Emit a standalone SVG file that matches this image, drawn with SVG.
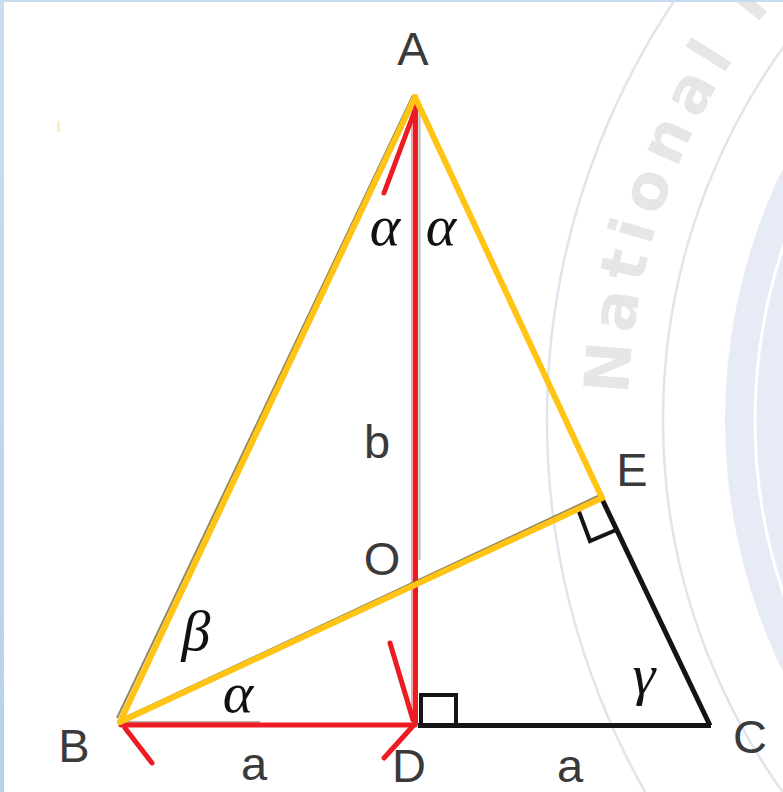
<svg xmlns="http://www.w3.org/2000/svg" width="783" height="792" viewBox="0 0 783 792">
  <defs>
    <linearGradient id="edgeGrad" x1="0" y1="0" x2="0" y2="1">
      <stop offset="0" stop-color="#c9ddef"/>
      <stop offset="1" stop-color="#b7d1ea"/>
    </linearGradient>
    <path id="wmArc" d="M628,420 A672,672 0 0 1 1016,-189"/>
    <style>
      .lbl { font-family: "Liberation Sans", Arial, sans-serif; font-size: 47px; fill: #3a3a3a; text-anchor: middle; }
      .ang { font-family: "Liberation Serif", "Times New Roman", serif; font-style: italic; font-size: 58px; fill: #111; text-anchor: middle; }
      .yel { stroke: #ffc414; stroke-width: 6; fill: none; stroke-linecap: round; stroke-linejoin: round; }
      .yelEdge { stroke: #7a6a35; stroke-width: 2; fill: none; opacity: 0.8; }
      .red { stroke: #ed1c24; stroke-width: 5; fill: none; stroke-linecap: round; }
      .blk { stroke: #141414; stroke-width: 5; fill: none; stroke-linejoin: miter; }
      .mark { stroke: #141414; stroke-width: 4; fill: none; stroke-linejoin: miter; }
      .wmLine { stroke: #dfe4ee; stroke-width: 2.5; fill: none; }
      .wmText { font-family: "DejaVu Sans", sans-serif; font-weight: bold; font-size: 62px; fill: #e6e6e6; letter-spacing: 9px; }
    </style>
  </defs>

  <rect width="783" height="792" fill="#ffffff"/>

  <!-- watermark -->
  <g id="watermark">
    <circle cx="1300" cy="420" r="575" fill="#e6ebf5"/>
    <circle cx="1300" cy="420" r="545" fill="none" stroke="#ffffff" stroke-width="3"/>
    <circle class="wmLine" cx="1300" cy="420" r="753"/>
    <circle class="wmLine" cx="1300" cy="420" r="637"/>
    <text class="wmText"><textPath href="#wmArc" startOffset="25">National P</textPath></text>
  </g>

  <!-- window edges -->
  <rect x="0" y="0" width="783" height="2" fill="#c6dbee"/>
  <rect x="0" y="0" width="4" height="792" fill="url(#edgeGrad)"/>
  <rect x="57" y="121" width="3" height="11" fill="#fdeec0"/>

  <!-- connectors -->
  <g id="connectors">
    <!-- black segments -->
    <line class="blk" x1="418" y1="725.5" x2="711" y2="725.5"/>
    <line class="blk" x1="602" y1="499" x2="710" y2="725.5"/>
    <polyline class="mark" points="421,723 421,695 456,695 456,723"/>
    <polyline class="mark" points="578,509 590,541 616,530"/>

    <!-- red lines -->
    <line x1="412" y1="110" x2="412" y2="720" stroke="#f7a3a6" stroke-width="2"/>
    <line x1="419.5" y1="110" x2="419.5" y2="560" stroke="#8c8c8c" stroke-width="2" opacity="0.6"/>
    <line class="red" x1="415.5" y1="102" x2="415.5" y2="723"/>
    <line x1="125" y1="722" x2="260" y2="722" stroke="#8c5050" stroke-width="2" opacity="0.5"/>
    <line class="red" x1="121" y1="725" x2="415" y2="725"/>
    <line class="red" x1="415" y1="110" x2="384" y2="193"/>
    <line class="red" x1="413" y1="720" x2="390" y2="643"/>
    <line class="red" x1="413" y1="726" x2="384" y2="758"/>
    <line class="red" x1="125" y1="728" x2="152" y2="763"/>

    <!-- yellow lines -->
    <line class="yelEdge" x1="413" y1="95" x2="117" y2="718"/>
    <line class="yelEdge" x1="124" y1="718" x2="600" y2="495"/>
    <line class="yel" x1="415" y1="97" x2="120" y2="722"/>
    <line class="yel" x1="415" y1="97" x2="602" y2="498"/>
    <line class="yel" x1="120" y1="722" x2="602" y2="498"/>
  </g>

  <!-- nodes -->
  <g id="A"><text class="lbl" x="413" y="65">A</text></g>
  <g id="B"><text class="lbl" x="74" y="762">B</text></g>
  <g id="C"><text class="lbl" x="750" y="753">C</text></g>
  <g id="D"><text class="lbl" x="409" y="782">D</text></g>
  <g id="E"><text class="lbl" x="632" y="486">E</text></g>
  <g id="O"><text class="lbl" x="382" y="575">O</text></g>

  <!-- side and angle labels -->
  <g id="labels">
    <text class="lbl" x="377" y="458">b</text>
    <text class="lbl" x="254" y="780">a</text>
    <text class="lbl" x="570" y="782">a</text>
    <text class="ang" x="385" y="245">α</text>
    <text class="ang" x="441" y="245">α</text>
    <text class="ang" x="238" y="712">α</text>
    <text class="ang" x="196" y="650">β</text>
    <text class="ang" x="644" y="694">γ</text>
  </g>
</svg>
